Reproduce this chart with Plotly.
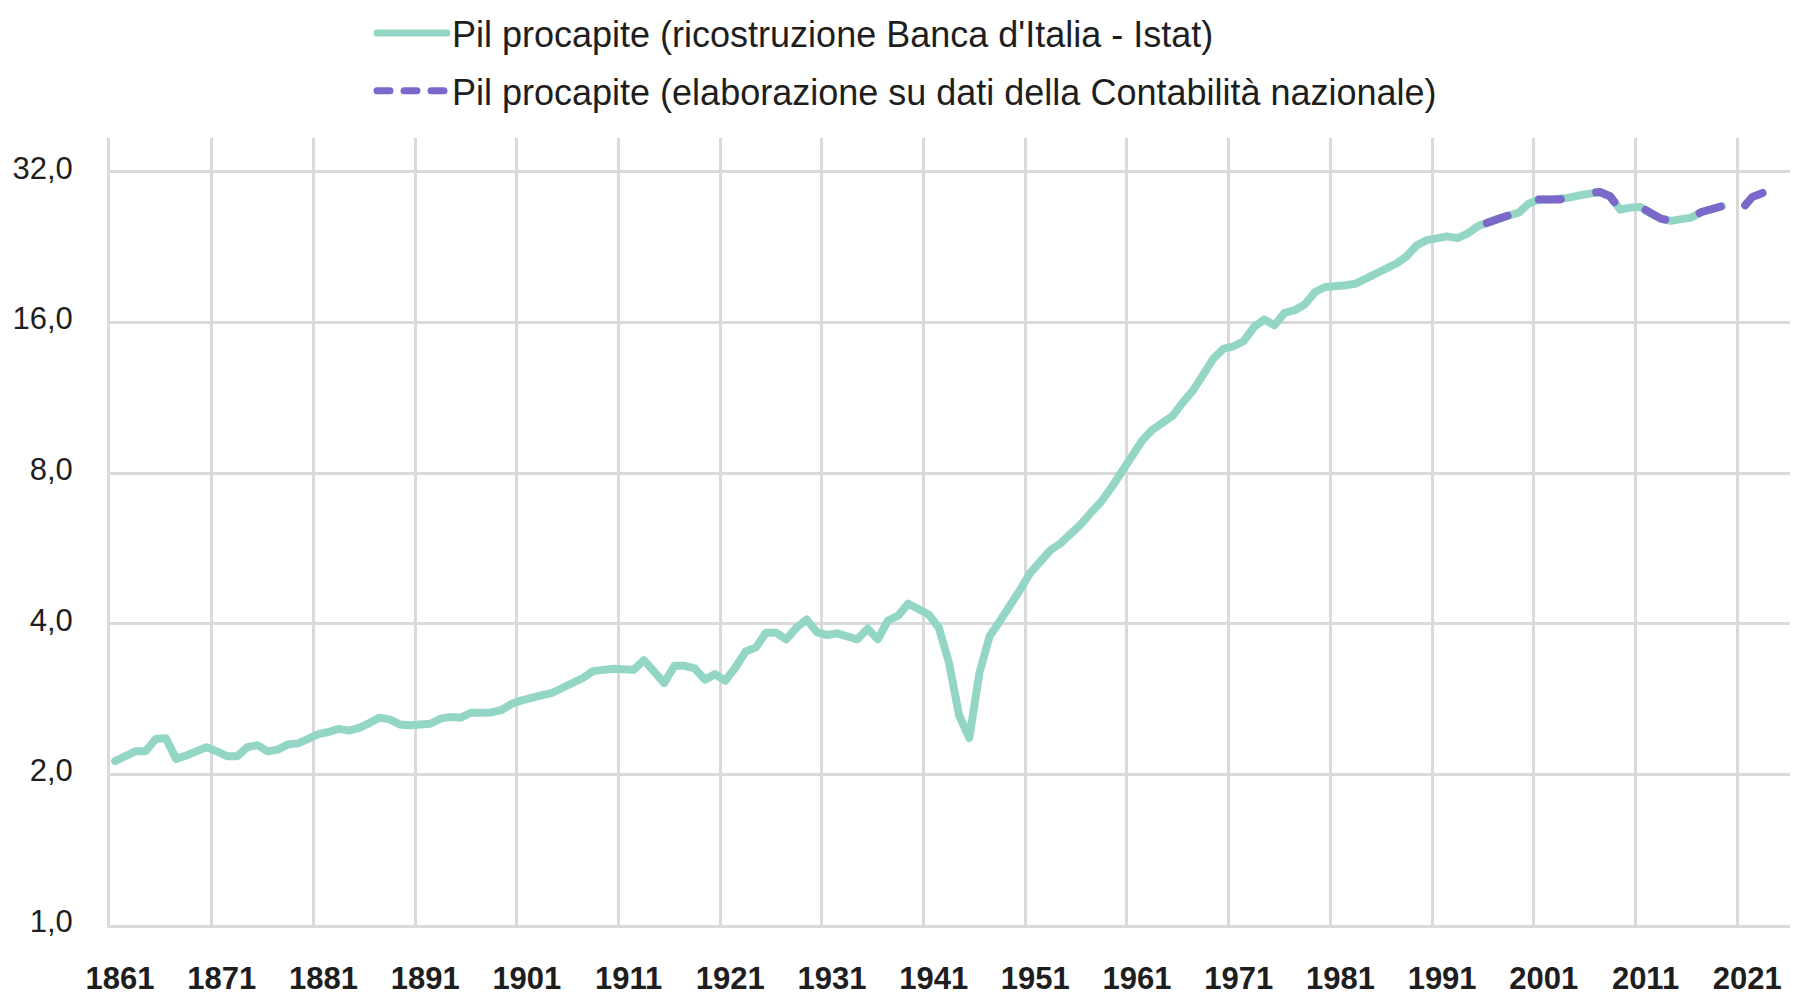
import plotly.graph_objects as go

# ---- data ----
years_ricostruzione = list(range(1861, 2020))
pil_ricostruzione = [
    2.127, 2.165, 2.224, 2.224, 2.354, 2.362, 2.148, 2.182, 2.224, 2.267,   # 1861-1870
    2.224, 2.175, 2.173, 2.267, 2.288, 2.224, 2.242, 2.296, 2.307, 2.354,   # 1871-1880
    2.407, 2.431, 2.466, 2.446, 2.477, 2.533, 2.597, 2.577, 2.517, 2.509,   # 1881-1890
    2.517, 2.525, 2.585, 2.606, 2.597, 2.656, 2.656, 2.660, 2.690, 2.768,   # 1891-1900
    2.812, 2.857, 2.880, 2.912, 2.972, 3.053, 3.117, 3.217, 3.243, 3.253,   # 1901-1910
    3.245, 3.237, 3.383, 3.222, 3.046, 3.297, 3.297, 3.257, 3.093, 3.173,   # 1911-1920
    3.078, 3.271, 3.520, 3.585, 3.839, 3.839, 3.724, 3.928, 4.080, 3.851,   # 1921-1930
    3.798, 3.828, 3.764, 3.724, 3.910, 3.724, 4.061, 4.155, 4.388, 4.283,   # 1931-1940
    4.175, 3.928, 3.347, 2.623, 2.365, 3.197, 3.781, 4.049, 4.335, 4.680,   # 1941-1950
    5.060, 5.360, 5.618, 5.802, 6.048, 6.333, 6.684, 7.031, 7.500, 8.099,   # 1951-1960
    8.746, 9.300, 9.769, 10.044, 10.421, 11.082, 11.712, 12.590, 13.552, 14.193,  # 1961-1970
    14.346, 14.703, 15.685, 16.223, 15.805, 16.73, 16.94, 17.41, 18.42, 18.85,    # 1971-1980
    18.85, 19.00, 19.14, 19.59, 20.05, 20.52, 21.00, 21.72, 22.84, 23.38,         # 1981-1990
    23.60, 23.80, 23.60, 24.10, 24.93, 25.43, 25.82, 26.18, 26.50, 27.66,         # 1991-2000
    28.18, 28.18, 28.18, 28.44, 28.74, 29.06, 29.19, 28.62, 26.91, 27.16,         # 2001-2010
    27.24, 26.42, 25.82, 25.55, 25.70, 25.94, 26.62, 27.03, 27.33,                # 2011-2019
]

years_contabilita = list(range(1995, 2024))
pil_contabilita = [
    24.93, 25.43, 25.82, 26.18, 26.50, 27.66,                                     # 1995-2000
    28.18, 28.18, 28.18, 28.44, 28.74, 29.06, 29.19, 28.62, 26.91, 27.16,         # 2001-2010
    27.24, 26.42, 25.82, 25.55, 25.70, 25.94, 26.62, 27.03, 27.33, 25.82,         # 2011-2020
    27.03, 28.53, 29.06,                                                          # 2021-2023
]

name_ricostruzione = "Pil procapite (ricostruzione Banca d'Italia - Istat)"
name_contabilita = "Pil procapite (elaborazione su dati della Contabilità nazionale)"

x_tick_years = list(range(1861, 2022, 10))
x_tick_text = [str(y) for y in x_tick_years]
y_tick_vals = [1, 2, 4, 8, 16, 32]
y_tick_text = ["1,0", "2,0", "4,0", "8,0", "16,0", "32,0"]

# ---- styles ----
GREEN = "#93d6c6"
PURPLE = "#7b68ca"
GRID = "#dadada"
TEXT = "#1e1e1e"
FONT = "Liberation Sans, Arial, sans-serif"

fig = go.Figure()
# data lines (legend entries are drawn by the legend-only style traces below)
fig.add_trace(go.Scatter(
    x=years_ricostruzione, y=pil_ricostruzione, mode="lines",
    name=name_ricostruzione, legendgroup="g1", showlegend=False,
    line=dict(color=GREEN, width=8),
))
# drawn from the latest year backwards so the dash pattern starts at the line end
fig.add_trace(go.Scatter(
    x=years_contabilita[::-1], y=pil_contabilita[::-1], mode="lines",
    name=name_contabilita, legendgroup="g2", showlegend=False,
    line=dict(color=PURPLE, width=8, dash="22px,36px"),
))
# legend entries
fig.add_trace(go.Scatter(
    x=[None], y=[None], mode="lines", name=name_ricostruzione,
    legendgroup="g1", showlegend=True, hoverinfo="skip",
    line=dict(color=GREEN, width=7),
))
fig.add_trace(go.Scatter(
    x=[None], y=[None], mode="lines", name=name_contabilita,
    legendgroup="g2", showlegend=True, hoverinfo="skip",
    line=dict(color=PURPLE, width=7, dash="13px,14px"),
))

fig.update_layout(
    width=1804, height=997,
    paper_bgcolor="white", plot_bgcolor="white",
    margin=dict(l=110, r=14, t=138, b=72, pad=0, autoexpand=False),
    showlegend=True,
    legend=dict(
        orientation="v",
        xref="container", yref="container",
        x=372 / 1804, y=1 - 3 / 997,
        xanchor="left", yanchor="top",
        font=dict(family=FONT, size=36, color=TEXT),
        itemwidth=70,
        bgcolor="rgba(0,0,0,0)",
        tracegroupgap=8,
    ),
    xaxis=dict(
        range=[1860.5, 2025.7],
        tickmode="array", tickvals=x_tick_years, ticktext=x_tick_text,
        tickangle=0,
        showgrid=False, zeroline=False,
        showline=True, linecolor=GRID, linewidth=3,
        ticks="",
        minor=dict(
            tickmode="array",
            tickvals=[y - 0.5 for y in x_tick_years],
            showgrid=True, gridcolor=GRID, gridwidth=3, ticks="",
        ),
        tickfont=dict(family=FONT, size=31, color=TEXT, weight="bold"),
        ticklabelstandoff=24,
        ticklabelshift=5,
        automargin=False,
    ),
    yaxis=dict(
        type="log",
        range=[0, 1.5731],
        tickmode="array", tickvals=y_tick_vals, ticktext=y_tick_text,
        showgrid=True, gridcolor=GRID, gridwidth=3,
        zeroline=False,
        showline=True, linecolor=GRID, linewidth=3,
        ticks="",
        tickfont=dict(family=FONT, size=31, color=TEXT),
        ticklabelstandoff=28,
        ticklabelshift=-4,
        automargin=False,
    ),
)

round_caps = (
    "document.body.style.margin='0';"
    "document.body.style.overflow='hidden';"
    "document.querySelectorAll('path.js-line').forEach(function(p){"
    "p.style.strokeLinecap='round';p.style.strokeLinejoin='round';});"
)

fig.write_html(
    "out.html",
    config={"displayModeBar": False},
    post_script=round_caps,
)
